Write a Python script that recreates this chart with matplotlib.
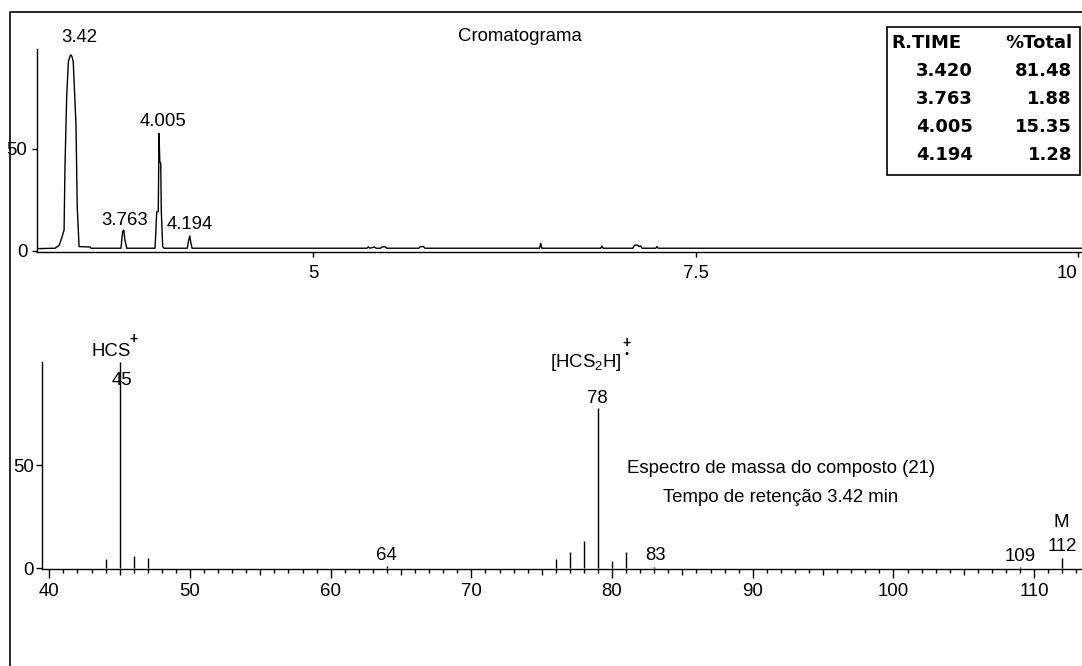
import matplotlib.pyplot as plt
from matplotlib.lines import Line2D
from matplotlib.patches import Rectangle
from matplotlib.ticker import MultipleLocator

plt.rcParams['font.family'] = ['Liberation Sans', 'DejaVu Sans']

# cromatograma (tempo em min, intensidade relativa)
chrom_t = [3.195, 3.311, 3.337, 3.354, 3.370, 3.376, 3.387, 3.398, 3.409, 3.415,
           3.422, 3.430, 3.448, 3.456, 3.468, 3.540, 3.546,
           3.742, 3.753, 3.760, 3.768, 3.780,
           3.965, 3.976, 3.986, 3.991, 3.996, 4.002, 4.006, 4.015, 4.023,
           4.176, 4.185, 4.192, 4.198, 4.207,
           5.350, 5.360, 5.370, 5.400, 5.410, 5.440, 5.450, 5.470, 5.480,
           5.690, 5.700, 5.720, 5.730, 6.480, 6.487, 6.495,
           6.880, 6.886, 6.895, 7.090, 7.100, 7.120, 7.130, 7.140, 7.150,
           7.240, 7.246, 7.255, 10.03]
chrom_i = [1.0, 1.2, 2.5, 6.1, 10.1, 41.2, 75.5, 92.6, 95.5, 96.0,
           95.1, 92.6, 61.6, 21.6, 2.0, 1.8, 1.2,
           1.2, 9.3, 10.1, 5.2, 1.2,
           1.2, 19.1, 19.1, 57.5, 43.6, 43.0, 19.1, 2.0, 1.2,
           1.2, 5.2, 7.2, 4.4, 1.2,
           1.2, 1.8, 1.2, 1.8, 1.2, 1.2, 1.9, 1.9, 1.2,
           1.2, 2.0, 2.0, 1.2, 1.2, 3.6, 1.2,
           1.2, 2.2, 1.2, 1.2, 2.6, 2.8, 2.0, 2.3, 1.2,
           1.2, 2.0, 1.2, 1.2]

peak_rt = [3.42, 3.763, 4.005, 4.194]
peak_top = [96.0, 10.1, 57.5, 7.2]
peak_names = ['3.42', '3.763', '4.005', '4.194']

table_rt = ['3.420', '3.763', '4.005', '4.194']
table_pct = ['81.48', '1.88', '15.35', '1.28']

# espectro de massa
mz = [44, 45, 46, 47, 64, 76, 77, 78, 79, 80, 81, 83, 109, 112]
abund = [4.5, 100, 6, 5, 1, 4.5, 7.7, 13, 77.4, 3.5, 7.7, 0.5, 0.5, 5]

W, H = 1082, 666


def fx(x):
    return x / W


def fy(y):
    return 1 - y / H


fig = plt.figure(figsize=(10.82, 6.66), dpi=100)
fs = 13.4

# moldura
fig.add_artist(Line2D([fx(9.5), fx(9.5), 1], [0, fy(12), fy(12)], color='black', lw=1.2))

# --- cromatograma
ax1 = fig.add_axes([fx(36.7), fy(252.3), 1 - fx(36.7), (252.3 - 49) / H])
ax1.plot(chrom_t, chrom_i, color='black', lw=1.0)
ax1.set_xlim(3.191, 10.027)
ax1.set_ylim(-0.8, 98.9)
for s in ['top', 'right']:
    ax1.spines[s].set_visible(False)
for s in ['left', 'bottom']:
    ax1.spines[s].set_linewidth(1.0)
ax1.set_xticks([5, 7.5, 10])
ax1.set_xticklabels(['5', '7.5', '10'])
ax1.set_yticks([0, 50])
ax1.tick_params(axis='x', length=3.6, width=1, pad=5.5, labelsize=fs)
ax1.tick_params(axis='y', length=3.6, width=1, pad=3, labelsize=fs)
ax1.get_xticklabels()[-1].set_horizontalalignment('right')

offsets = [(5.5, 12.5), (0, 7), (1, 8.5), (0, 8)]
for rt, top, name, off in zip(peak_rt, peak_top, peak_names, offsets):
    ax1.annotate(name, (rt, top), xytext=off, textcoords='offset points',
                 ha='center', va='center', fontsize=fs)
ax1.text(6.352, 104.8, 'Cromatograma', ha='center', va='center', fontsize=fs)

# tabela
fig.add_artist(Rectangle((fx(886.7), fy(175)), (1080 - 886.7) / W, (175 - 27.3) / H,
                         fill=False, edgecolor='black', lw=1.2))
tfont = dict(family='DejaVu Sans', weight='bold', fontsize=13, va='center')
fig.text(fx(891.7), fy(43), 'R.TIME', ha='left', **tfont)
fig.text(fx(1072), fy(43), '%Total', ha='right', **tfont)
for i, (rt, pc) in enumerate(zip(table_rt, table_pct)):
    yy = 71.3 + 27.8 * i
    fig.text(fx(972.7), fy(yy), rt, ha='right', **tfont)
    fig.text(fx(1072), fy(yy), pc, ha='right', **tfont)

# --- espectro
ax2 = fig.add_axes([fx(41.7), fy(569.3), 1 - fx(41.7), (569.3 - 361.7) / H])
ax2.vlines(mz, 0, abund, color='black', lw=1.0)
ax2.set_xlim(39.46, 113.4)
ax2.set_ylim(-0.48, 100)
for s in ['top', 'right']:
    ax2.spines[s].set_visible(False)
for s in ['left', 'bottom']:
    ax2.spines[s].set_linewidth(1.0)
ax2.xaxis.set_major_locator(MultipleLocator(10))
ax2.xaxis.set_minor_locator(MultipleLocator(1))
ax2.set_yticks([0, 50])
ax2.tick_params(axis='x', which='major', length=6.5, width=1, pad=3.5, labelsize=fs)
ax2.tick_params(axis='x', which='minor', length=3.0, width=1)
ax2.tick_params(axis='y', length=4.3, width=1, pad=1.5, labelsize=fs)
for loc, tick in zip(ax2.xaxis.get_minorticklocs(), ax2.xaxis.get_minor_ticks()):
    if round(loc) % 5 == 0:
        tick.tick1line.set_markersize(4.6)

ax2.text(43.01, 102.8, 'HCS', ha='left', va='baseline', fontsize=fs)
ax2.text(46.0, 111.0, '+', ha='center', va='center', fontsize=10, fontweight='bold')
ax2.text(45.15, 91.1, '45', ha='center', va='center', fontsize=fs)
ax2.text(75.59, 97.6, '[HCS$_\\mathregular{2}$H]', ha='left', va='baseline', fontsize=fs)
ax2.text(81.05, 109.0, '+', ha='center', va='center', fontsize=10, fontweight='bold')
ax2.text(81.05, 103.7, '•', ha='center', va='center', fontsize=8)
ax2.text(78.96, 82.4, '78', ha='center', va='center', fontsize=fs)
ax2.text(63.95, 6.4, '64', ha='center', va='center', fontsize=fs)
ax2.text(83.07, 6.4, '83', ha='center', va='center', fontsize=fs)
ax2.text(109.0, 5.6, '109', ha='center', va='center', fontsize=fs)
ax2.text(111.98, 10.5, '112', ha='center', va='center', fontsize=fs)
ax2.text(111.95, 22.2, 'M', ha='center', va='center', fontsize=fs)
ax2.text(81.08, 48.1, 'Espectro de massa do composto (21)', ha='left', va='center', fontsize=fs)
ax2.text(83.6, 34.4, 'Tempo de retenção 3.42 min', ha='left', va='center', fontsize=fs)

fig.savefig('out.png', dpi=100)
